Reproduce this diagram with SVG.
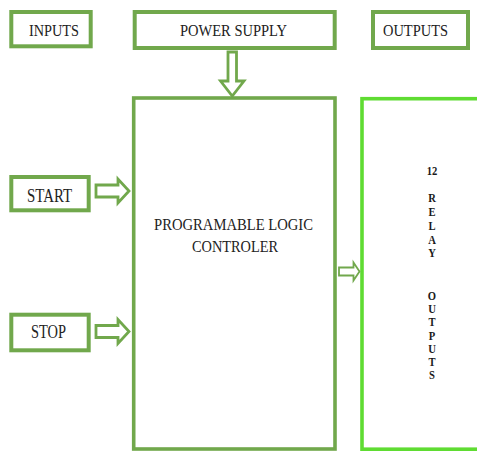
<svg xmlns="http://www.w3.org/2000/svg" width="477" height="451" viewBox="0 0 477 451">
  <style>
    .box { fill: #ffffff; stroke: #71a84c; stroke-width: 4; }
    .plc { fill: #ffffff; stroke: #71a84c; stroke-width: 3.6; }
    .relay { fill: #ffffff; stroke: #5fdc32; stroke-width: 3.6; }
    .arrow { fill: #ffffff; stroke: #71a84c; stroke-width: 2.8; stroke-linejoin: miter; }
    .arrow-thin { fill: #ffffff; stroke: #71a84c; stroke-width: 1.8; }
    .lbl { font-family: "Liberation Serif", "Times New Roman", serif; fill: #222222; }
    .rl { font-family: "Liberation Serif", "Times New Roman", serif; font-weight: bold; font-size: 12.5px; fill: #1a1a1a; text-anchor: middle; }
  </style>
  <rect width="477" height="451" fill="#ffffff"/>

  <g id="inputs">
    <rect class="box" x="11.3" y="12" width="79.4" height="34.3"/>
    <text class="lbl" x="29" y="36" font-size="17.5" textLength="50" lengthAdjust="spacingAndGlyphs">INPUTS</text>
  </g>

  <g id="power-supply">
    <rect class="box" x="134.7" y="12" width="200" height="36"/>
    <text class="lbl" x="180" y="36" font-size="17.5" textLength="107" lengthAdjust="spacingAndGlyphs">POWER SUPPLY</text>
  </g>

  <g id="outputs">
    <rect class="box" x="373" y="12" width="95" height="36"/>
    <text class="lbl" x="383" y="36" font-size="17.5" textLength="65" lengthAdjust="spacingAndGlyphs">OUTPUTS</text>
  </g>

  <g id="start">
    <rect class="box" x="11.3" y="177" width="77.4" height="33.3"/>
    <text class="lbl" x="27" y="201.5" font-size="18" textLength="45" lengthAdjust="spacingAndGlyphs">START</text>
  </g>

  <g id="stop">
    <rect class="box" x="11.3" y="314.7" width="77.4" height="35.6"/>
    <text class="lbl" x="31" y="338.3" font-size="18" textLength="35" lengthAdjust="spacingAndGlyphs">STOP</text>
  </g>

  <g id="plc">
    <rect class="plc" x="133.7" y="98" width="201.3" height="351"/>
    <text class="lbl" x="154" y="230" font-size="16.5" textLength="159" lengthAdjust="spacingAndGlyphs">PROGRAMABLE LOGIC</text>
    <text class="lbl" x="192" y="252" font-size="16.5" textLength="86" lengthAdjust="spacingAndGlyphs">CONTROLER</text>
  </g>

  <g id="relay-outputs">
    <rect class="relay" x="362" y="98.7" width="130" height="350.5"/>
    <g transform="translate(432,0) scale(0.85,1)">
      <text class="rl" x="0" y="175">12</text>
      <text class="rl" x="0" y="202.5">R</text>
      <text class="rl" x="0" y="216.3">E</text>
      <text class="rl" x="0" y="230">L</text>
      <text class="rl" x="0" y="243.8">A</text>
      <text class="rl" x="0" y="257.5">Y</text>
      <text class="rl" x="0" y="300">O</text>
      <text class="rl" x="0" y="313.3">U</text>
      <text class="rl" x="0" y="326.5">T</text>
      <text class="rl" x="0" y="339.7">P</text>
      <text class="rl" x="0" y="353">U</text>
      <text class="rl" x="0" y="366.2">T</text>
      <text class="rl" x="0" y="379.5">S</text>
    </g>
  </g>

  <g id="connectors">
    <polygon class="arrow" points="228,52 236.5,52 236.5,81 244,81 232.25,96 220.5,81 228,81"/>
    <polygon class="arrow" points="96,185 118,185 118,179 129,191 118,203 118,197 96,197"/>
    <polygon class="arrow" points="96,325.5 118,325.5 118,319.5 129,331.5 118,343.5 118,337.5 96,337.5"/>
    <polygon class="arrow-thin" points="339,267.5 353.5,267.5 353.5,262.5 359.5,271.5 353.5,280.5 353.5,275.5 339,275.5"/>
  </g>
</svg>
